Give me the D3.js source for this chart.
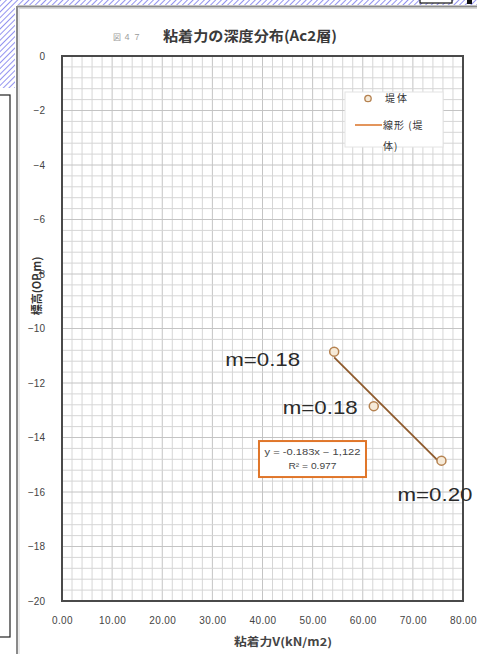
<!DOCTYPE html>
<html>
<head>
<meta charset="utf-8">
<script src="https://cdn.jsdelivr.net/npm/d3@7"></script>
<style>
  html, body { margin: 0; padding: 0; background: #fff; }
  svg { display: block; }
  text { font-family: "Liberation Sans", Arial, "Noto Sans CJK JP", sans-serif; }
  .jp { font-family: "Noto Sans CJK JP", "Noto Sans CJK SC", sans-serif; }
</style>
</head>
<body>
<svg id="chart" width="477" height="654"></svg>
<script>
// Cohesion (kN/m2) against depth (OP, m) for the Ac2 layer
const cohesion = [54.3, 62.2, 75.7];
const depth = [-10.85, -12.85, -14.85];
const mLabels = ["m=0.18", "m=0.18", "m=0.20"];
const xTicks = [0, 10, 20, 30, 40, 50, 60, 70, 80];
const yTicks = [0, -2, -4, -6, -8, -10, -12, -14, -16, -18, -20];
const fitSlope = -0.183;
const fitIntercept = -1.122;
const fitR2 = 0.977;
const legendItems = ["堤体", "線形 (堤", "体)"];

// layout
const W = 477, H = 654;
const plot = { left: 62, right: 463, top: 56, bottom: 601 };
const labelOffsets = [[-34, 14, "end"], [-16, 8, "end"], [-44, 40, "start"]];

const svg = d3.select("#chart");

// diagonal blue hatching along the page edge
const defs = svg.append("defs");
const pat = defs.append("pattern")
  .attr("id", "hatch").attr("width", 4).attr("height", 4)
  .attr("patternUnits", "userSpaceOnUse")
  .attr("patternTransform", "rotate(45)");
pat.append("rect").attr("width", 4).attr("height", 4).attr("fill", "#fff");
pat.append("line").attr("x1", 0).attr("y1", 0).attr("x2", 0).attr("y2", 4)
  .attr("stroke", "#4a4ae6").attr("stroke-width", 1.2);

svg.append("rect").attr("x", 0).attr("y", 0).attr("width", W).attr("height", 5).attr("fill", "url(#hatch)");
svg.append("rect").attr("x", 0).attr("y", 0).attr("width", 15).attr("height", 88).attr("fill", "url(#hatch)");
svg.append("rect").attr("x", 420).attr("y", -2).attr("width", 32).attr("height", 5)
  .attr("fill", "#fff").attr("stroke", "#111").attr("stroke-width", 1.2);
svg.append("rect").attr("x", 467).attr("y", 0).attr("width", 5).attr("height", 4).attr("fill", "#111");

// neighbouring panel on the left
svg.append("rect").attr("x", -5).attr("y", 95).attr("width", 15).attr("height", 542)
  .attr("fill", "#fff").attr("stroke", "#222").attr("stroke-width", 1.2);

// chart frame
svg.append("line").attr("x1", 17).attr("x2", W).attr("y1", 6.5).attr("y2", 6.5)
  .attr("stroke", "#8a8a8a").attr("stroke-width", 2);
svg.append("line").attr("x1", 17).attr("x2", 17).attr("y1", 6).attr("y2", H)
  .attr("stroke", "#8a8a8a").attr("stroke-width", 2);
svg.append("line").attr("x1", 19).attr("x2", W).attr("y1", 8.5).attr("y2", 8.5)
  .attr("stroke", "#d8d8d8").attr("stroke-width", 1);
svg.append("line").attr("x1", 19).attr("x2", 19).attr("y1", 8).attr("y2", H)
  .attr("stroke", "#d8d8d8").attr("stroke-width", 1);

const x = d3.scaleLinear().domain([0, 80]).range([plot.left, plot.right]);
const y = d3.scaleLinear().domain([0, -20]).range([plot.top, plot.bottom]);

// grid
const g = svg.append("g");
g.selectAll("line.vx").data(d3.range(0, 80.01, 2)).join("line")
  .attr("x1", d => x(d)).attr("x2", d => x(d))
  .attr("y1", plot.top).attr("y2", plot.bottom)
  .attr("stroke", d => d % 10 === 0 ? "#c4c4c4" : "#d6d6d6").attr("stroke-width", 1);
g.selectAll("line.hy").data(d3.range(0, 50.5, 1).map(i => -i * 0.4)).join("line")
  .attr("y1", d => y(d)).attr("y2", d => y(d))
  .attr("x1", plot.left).attr("x2", plot.right)
  .attr("stroke", d => Math.abs(d % 2) < 1e-6 ? "#c4c4c4" : "#d6d6d6").attr("stroke-width", 1);

// plot border
svg.append("rect").attr("x", plot.left).attr("y", plot.top)
  .attr("width", plot.right - plot.left).attr("height", plot.bottom - plot.top)
  .attr("fill", "none").attr("stroke", "#4a4a4a").attr("stroke-width", 2);

// axes (labels only, no tick marks)
const yAxis = d3.axisLeft(y).tickValues(yTicks).tickSize(0).tickPadding(17)
  .tickFormat(d => d === 0 ? "0" : "−" + Math.abs(d));
const ya = svg.append("g").attr("transform", `translate(${plot.left},0)`).call(yAxis);
ya.select(".domain").remove();
ya.selectAll("text").attr("font-size", 10).attr("fill", "#444")
  .style("font-family", "'Liberation Sans', Arial, sans-serif");

const xAxis = d3.axisBottom(x).tickValues(xTicks).tickSize(0).tickPadding(16)
  .tickFormat(d3.format(".2f"));
const xa = svg.append("g").attr("transform", `translate(0,${plot.bottom})`).call(xAxis);
xa.select(".domain").remove();
xa.selectAll("text").attr("font-size", 10).attr("fill", "#444").attr("letter-spacing", 0.4)
  .style("font-family", "'Liberation Sans', Arial, sans-serif");

// titles
svg.append("text").attr("class", "jp").attr("x", 113).attr("y", 40)
  .attr("font-size", 8).attr("fill", "#999").attr("letter-spacing", 2).text("図４７");
svg.append("text").attr("class", "jp").attr("x", 163).attr("y", 41)
  .attr("font-size", 14).attr("font-weight", "bold").attr("fill", "#3a3a3a")
  .attr("textLength", 174).attr("lengthAdjust", "spacingAndGlyphs")
  .text("粘着力の深度分布(Ac2層)");

svg.append("text").attr("class", "jp").attr("x", 283).attr("y", 646)
  .attr("text-anchor", "middle").attr("font-size", 11).attr("font-weight", "bold").attr("fill", "#444")
  .attr("textLength", 98).attr("lengthAdjust", "spacingAndGlyphs")
  .text("粘着力V(kN/m2)");

svg.append("text").attr("class", "jp")
  .attr("transform", "translate(41,286) rotate(-90)")
  .attr("text-anchor", "middle").attr("font-size", 11).attr("font-weight", "bold").attr("fill", "#333")
  .text("標高(OP,m)");

// linear fit through the points
const fitX = d3.extent(cohesion);
svg.append("line")
  .attr("x1", x(fitX[0])).attr("y1", y(fitSlope * fitX[0] + fitIntercept))
  .attr("x2", x(fitX[1])).attr("y2", y(fitSlope * fitX[1] + fitIntercept))
  .attr("stroke", "#8e5a2c").attr("stroke-width", 1.8);

// measured points
const pts = cohesion.map((c, i) => ({ c, d: depth[i], m: mLabels[i], o: labelOffsets[i] }));
svg.selectAll("circle.pt").data(pts).join("circle")
  .attr("cx", d => x(d.c)).attr("cy", d => y(d.d)).attr("r", 4.5)
  .attr("fill", "#f6ead8").attr("stroke", "#b58250").attr("stroke-width", 1.5);

svg.selectAll("text.m").data(pts).join("text")
  .attr("x", d => x(d.c) + d.o[0]).attr("y", d => y(d.d) + d.o[1])
  .attr("text-anchor", d => d.o[2])
  .attr("font-size", 19).attr("fill", "#2a2a2a")
  .attr("textLength", 75).attr("lengthAdjust", "spacingAndGlyphs")
  .text(d => d.m);

// regression equation box
const bx = x(39.3), by = y(-14.13);
svg.append("rect").attr("x", bx).attr("y", by).attr("width", 107).attr("height", 36)
  .attr("fill", "#fff").attr("stroke", "#e0762a").attr("stroke-width", 2);
svg.append("text").attr("x", bx + 53.5).attr("y", by + 14).attr("text-anchor", "middle")
  .attr("font-size", 8.5).attr("fill", "#444")
  .attr("textLength", 96).attr("lengthAdjust", "spacingAndGlyphs")
  .text(`y = ${fitSlope}x ${fitIntercept < 0 ? "−" : "+"} ${Math.abs(fitIntercept).toFixed(3).replace(/^1\./, "1,")}`);
svg.append("text").attr("x", bx + 53.5).attr("y", by + 28).attr("text-anchor", "middle")
  .attr("font-size", 8.5).attr("fill", "#444")
  .attr("textLength", 48).attr("lengthAdjust", "spacingAndGlyphs")
  .text(`R² = ${fitR2}`);

// legend
const lg = svg.append("g").attr("transform", "translate(345,92)");
lg.append("rect").attr("width", 98).attr("height", 55).attr("fill", "#fff")
  .attr("stroke", "#e4e4e4").attr("stroke-width", 1);
lg.append("circle").attr("cx", 23).attr("cy", 6.5).attr("r", 3.2)
  .attr("fill", "#f6ead8").attr("stroke", "#b58250").attr("stroke-width", 1.3);
lg.append("text").attr("class", "jp").attr("x", 40).attr("y", 10).attr("font-size", 10)
  .attr("fill", "#333").attr("letter-spacing", 2).text(legendItems[0]);
lg.append("line").attr("x1", 10).attr("x2", 37).attr("y1", 33).attr("y2", 33)
  .attr("stroke", "#e08a4a").attr("stroke-width", 1.8);
lg.append("text").attr("class", "jp").attr("x", 38).attr("y", 37).attr("font-size", 10)
  .attr("fill", "#333").attr("letter-spacing", 1).text(legendItems[1]);
lg.append("text").attr("class", "jp").attr("x", 38).attr("y", 58).attr("font-size", 10)
  .attr("fill", "#333").attr("letter-spacing", 1).text(legendItems[2]);
</script>
</body>
</html>
